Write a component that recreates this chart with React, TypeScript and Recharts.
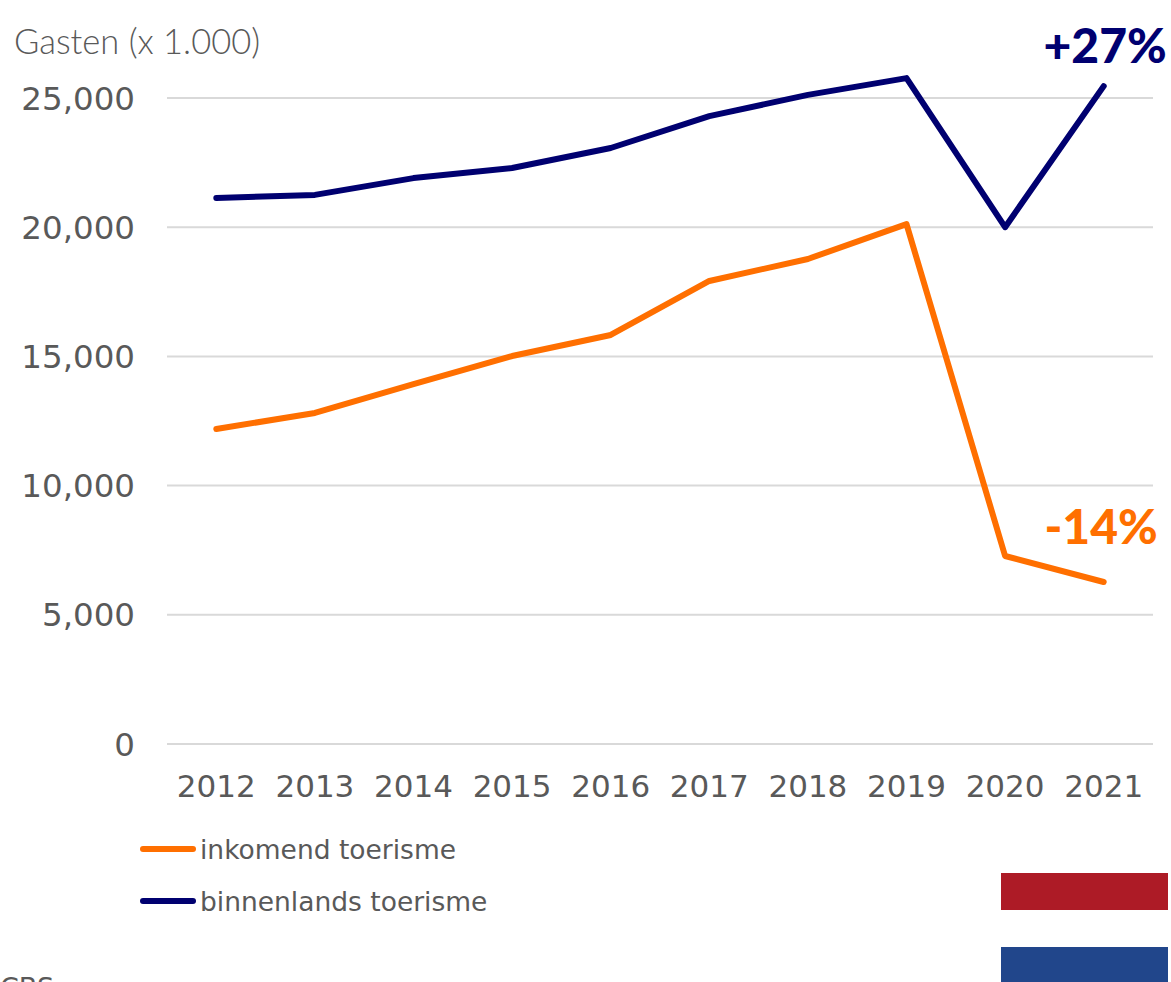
import React from 'react';
import { CartesianGrid, Legend, Line, LineChart, XAxis, YAxis } from 'recharts';

const years = ['2012', '2013', '2014', '2015', '2016', '2017', '2018', '2019', '2020', '2021'];
const inkomend = [12190, 12810, 13930, 15015, 15830, 17920, 18770, 20120, 7275, 6270];
const binnenlands = [21130, 21250, 21900, 22290, 23065, 24300, 25120, 25770, 20000, 25460];
const yTicks = [0, 5000, 10000, 15000, 20000, 25000];

const data = years.map((year, i) => ({
    year,
    inkomend: inkomend[i],
    binnenlands: binnenlands[i],
}));

const ORANGE = '#ff6f00';
const NAVY = '#000070';
const TEXT = '#595959';
const GRID = '#d9d9d9';
const AXIS_FONT = '"DejaVu Sans", Verdana, sans-serif';

function endLabel(text: string, color: string, dx: number, dy: number) {
    return (props: any) => {
        if (props.index !== years.length - 1) return null;
        return (
            <text
                key={text}
                x={props.x + dx}
                y={props.y + dy}
                fill={color}
                fontFamily="Lato, sans-serif"
                fontWeight={900}
                fontSize={48}
                textAnchor="end"
            >
                {text}
            </text>
        );
    };
}

function LegendContent({ payload }: any) {
    return (
        <div>
            {payload.map((entry: any) => (
                <div key={entry.value} style={{ display: 'flex', alignItems: 'center', height: 52 }}>
                    <div style={{ width: 56, height: 6, borderRadius: 3, background: entry.color }} />
                    <span style={{ fontFamily: AXIS_FONT, fontSize: 26.5, color: TEXT, marginLeft: 4 }}>{entry.value}</span>
                </div>
            ))}
        </div>
    );
}

function App() {
    return (
        <div style={{ position: 'absolute', left: 0, top: 0, width: 1171, height: 982, overflow: 'hidden', background: '#fff' }}>
            <LineChart width={1171} height={982} data={data} margin={{ top: 20.48, right: 18, left: 0, bottom: 188 }}>
                <CartesianGrid vertical={false} stroke={GRID} strokeWidth={2} syncWithTicks />
                <XAxis
                    dataKey="year"
                    scale="band"
                    height={50}
                    interval={0}
                    tickLine={false}
                    axisLine={{ stroke: GRID, strokeWidth: 2 }}
                    tick={{ fill: TEXT, fontSize: 31, fontFamily: AXIS_FONT }}
                    tickMargin={25}
                />
                <YAxis
                    width={167}
                    domain={[0, 28000]}
                    ticks={yTicks}
                    tickLine={false}
                    axisLine={false}
                    tickFormatter={(v: number) => v.toLocaleString('en-US')}
                    tick={{ fill: TEXT, fontSize: 32.5, fontFamily: AXIS_FONT }}
                    tickMargin={26}
                />
                <Legend
                    layout="vertical"
                    verticalAlign="middle"
                    align="center"
                    itemSorter={null}
                    content={LegendContent}
                    wrapperStyle={{ left: 140, top: 823, width: 400 }}
                />
                <Line
                    type="linear"
                    dataKey="inkomend"
                    name="inkomend toerisme"
                    stroke={ORANGE}
                    strokeWidth={6}
                    strokeLinecap="round"
                    strokeLinejoin="round"
                    dot={false}
                    isAnimationActive={false}
                    label={endLabel('-14%', ORANGE, 54, -38)}
                />
                <Line
                    type="linear"
                    dataKey="binnenlands"
                    name="binnenlands toerisme"
                    stroke={NAVY}
                    strokeWidth={6}
                    strokeLinecap="round"
                    strokeLinejoin="round"
                    dot={false}
                    isAnimationActive={false}
                    label={endLabel('+27%', NAVY, 63, -23)}
                />
            </LineChart>
            <div style={{ position: 'absolute', left: 14, top: 20, fontFamily: 'Lato, sans-serif', fontWeight: 300, fontSize: 34.5, color: TEXT, whiteSpace: 'nowrap' }}>
                Gasten (x 1.000)
            </div>
            <div style={{ position: 'absolute', left: 1001, top: 873, width: 167, height: 37, background: '#ad1b26' }} />
            <div style={{ position: 'absolute', left: 1001, top: 947, width: 167, height: 35, background: '#21468b' }} />
            <div style={{ position: 'absolute', left: 0, top: 972, fontFamily: AXIS_FONT, fontSize: 27, color: TEXT }}>CBS</div>
        </div>
    );
}

export default App;
